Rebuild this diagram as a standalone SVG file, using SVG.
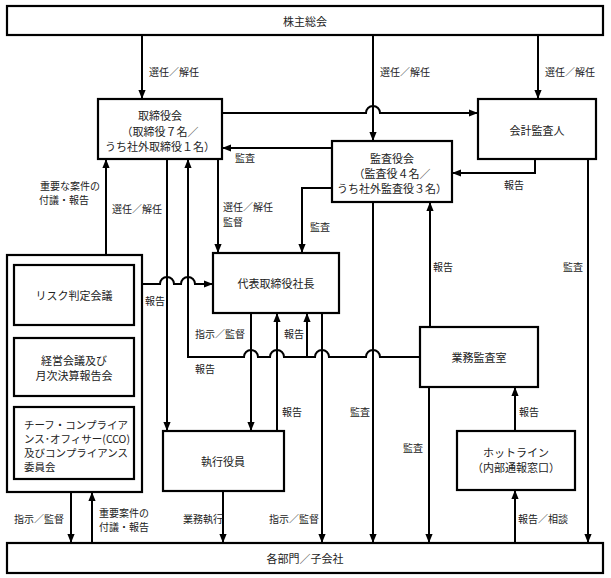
<svg xmlns="http://www.w3.org/2000/svg" width="611" height="578" viewBox="0 0 611 578">
<style>
.box{fill:#fff;stroke:#000;stroke-width:2.2}
.c{fill:none;stroke:#000;stroke-width:2}
text{font-family:"Noto Sans CJK JP","Noto Sans",sans-serif;fill:#222}
.t{font-size:11px;text-anchor:middle;dominant-baseline:central}
.l{font-size:10px;dominant-baseline:central}
.tl{font-size:10.5px;dominant-baseline:central}
</style>
<defs>
<marker id="ah" viewBox="0 0 10 10" refX="10" refY="5" markerWidth="9" markerHeight="9" markerUnits="userSpaceOnUse" orient="auto"><path d="M0,1 L10,5 L0,9 z" fill="#000"/></marker>
</defs>
<rect width="611" height="578" fill="#fff"/>

<g id="connectors" class="c" marker-end="url(#ah)">
<path d="M142,35 V99"/>
<path d="M373,35 V141"/>
<path d="M538,35 V99"/>
<path d="M222,113 H366 A7,7 0 0 1 380,113 H478"/>
<path d="M332,148 H222"/>
<path d="M535,159 V173 H452"/>
<path d="M588,159 V543"/>
<path d="M332,188 H302 V253"/>
<path d="M167,159 V431"/>
<path d="M420,357 H380 A7,7 0 0 0 366,357 H329 A7,7 0 0 0 315,357 H284 A7,7 0 0 0 270,357 H258 A7,7 0 0 0 244,357 H188 V159"/>
<path d="M307,357 V313"/>
<path d="M218,159 V253"/>
<path d="M142,284 H160 A7,7 0 0 1 174,284 H181 A7,7 0 0 1 195,284 H213"/>
<path d="M251,313 V431"/>
<path d="M277,431 V313"/>
<path d="M322,313 V543"/>
<path d="M373,202 V543"/>
<path d="M430,327 V202"/>
<path d="M429,387 V543"/>
<path d="M515,431 V387"/>
<path d="M515,543 V490"/>
<path d="M223,491 V543"/>
<path d="M71,492 V543"/>
<path d="M92,543 V492"/>
<path d="M106,255 V159"/>
</g>

<g id="kabunushi"><rect class="box" x="7" y="6" width="596" height="29"/><text class="t" x="305" y="21">株主総会</text></g>
<g id="torishimariyakukai"><rect class="box" x="98" y="99" width="124" height="60"/>
<text class="t" x="160" y="115">取締役会</text><text class="t" x="160" y="131">（取締役７名／</text><text class="t" x="160" y="146">うち社外取締役１名）</text></g>
<g id="kansayakukai"><rect class="box" x="332" y="141" width="120" height="61"/>
<text class="t" x="392" y="158">監査役会</text><text class="t" x="392" y="173">（監査役４名／</text><text class="t" x="392" y="188">うち社外監査役３名）</text></g>
<g id="kaikei"><rect class="box" x="478" y="99" width="118" height="60"/><text class="t" x="537" y="130">会計監査人</text></g>
<g id="daihyo"><rect class="box" x="213" y="253" width="126" height="60"/><text class="t" x="276" y="283">代表取締役社長</text></g>
<g id="committees"><rect class="box" x="7" y="255" width="135" height="237"/>
<g id="risk"><rect class="box" x="14" y="265" width="120" height="60"/><text class="t" x="74" y="295">リスク判定会議</text></g>
<g id="keiei"><rect class="box" x="14" y="338" width="120" height="58"/><text class="t" x="74" y="360">経営会議及び</text><text class="t" x="74" y="375">月次決算報告会</text></g>
<g id="cco"><rect class="box" x="14" y="407" width="120" height="72"/>
<text class="tl" x="24" y="424">チーフ・コンプライア</text><text class="tl" x="24" y="438">ンス･オフィサー(CCO)</text><text class="tl" x="24" y="452">及びコンプライアンス</text><text class="tl" x="24" y="466">委員会</text></g>
</g>
<g id="gyomukansa"><rect class="box" x="420" y="327" width="118" height="60"/><text class="t" x="479" y="357">業務監査室</text></g>
<g id="shikkou"><rect class="box" x="163" y="431" width="121" height="60"/><text class="t" x="223" y="461">執行役員</text></g>
<g id="hotline"><rect class="box" x="457" y="431" width="118" height="59"/><text class="t" x="516" y="452">ホットライン</text><text class="t" x="516" y="467">（内部通報窓口）</text></g>
<g id="kakubumon"><rect class="box" x="7" y="543" width="596" height="30"/><text class="t" x="305" y="558">各部門／子会社</text></g>

<g id="labels" class="l">
<text class="l" x="149" y="71">選任／解任</text>
<text class="l" x="380" y="71">選任／解任</text>
<text class="l" x="545" y="71">選任／解任</text>
<text class="l" x="235" y="157">監査</text>
<text class="l" x="504" y="184">報告</text>
<text class="l" x="40" y="185">重要な案件の</text>
<text class="l" x="39" y="199">付議・報告</text>
<text class="l" x="112" y="208">選任／解任</text>
<text class="l" x="223" y="206">選任／解任</text>
<text class="l" x="223" y="221">監督</text>
<text class="l" x="310" y="226">監査</text>
<text class="l" x="433" y="266">報告</text>
<text class="l" x="563" y="266">監査</text>
<text class="l" x="145" y="300">報告</text>
<text class="l" x="195" y="333">指示／監督</text>
<text class="l" x="284" y="333">報告</text>
<text class="l" x="195" y="368">報告</text>
<text class="l" x="282" y="411">報告</text>
<text class="l" x="350" y="411">監査</text>
<text class="l" x="403" y="447">監査</text>
<text class="l" x="519" y="411">報告</text>
<text class="l" x="518" y="518">報告／相談</text>
<text class="l" x="14" y="518">指示／監督</text>
<text class="l" x="99" y="512">重要案件の</text>
<text class="l" x="99" y="526">付議・報告</text>
<text class="l" x="183" y="518">業務執行</text>
<text class="l" x="269" y="518">指示／監督</text>
</g>
</svg>
